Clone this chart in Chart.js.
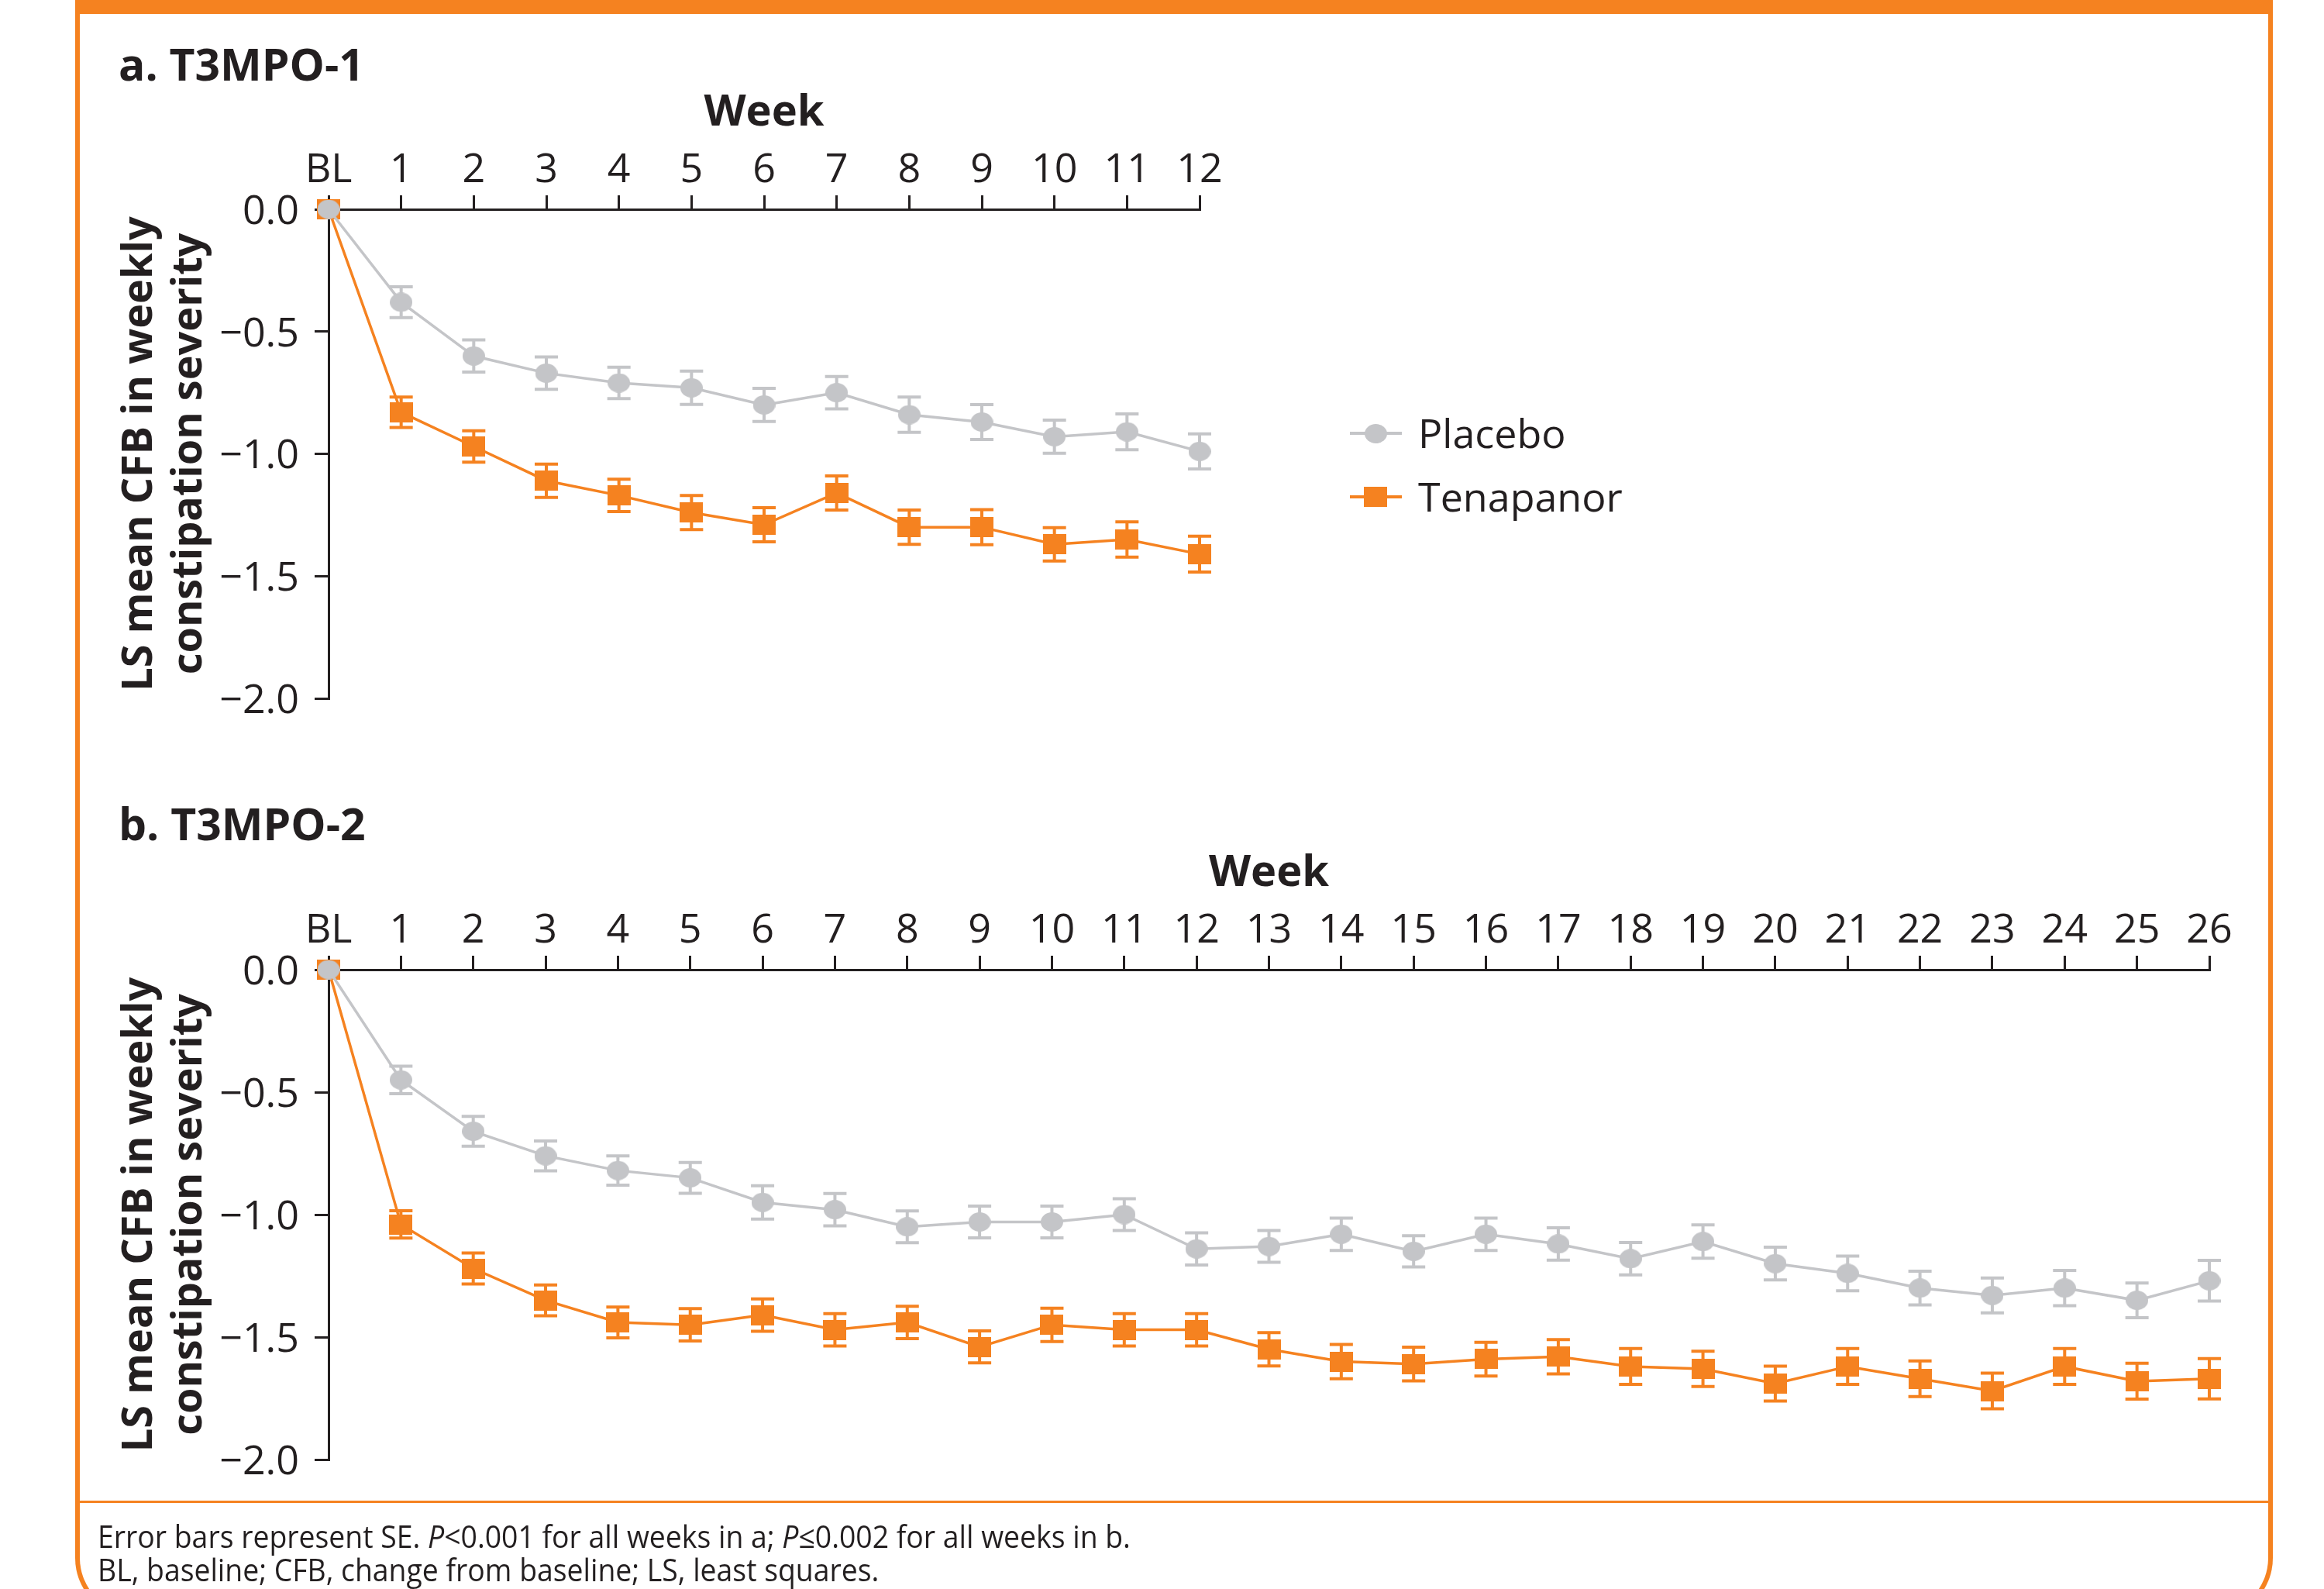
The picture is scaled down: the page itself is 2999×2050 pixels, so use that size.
<!DOCTYPE html>
<html>
<head>
<meta charset="utf-8">
<script src="https://cdn.jsdelivr.net/npm/chart.js@4.4.1/dist/chart.umd.min.js"></script>
<style>
  html, body { margin: 0; padding: 0; background: #fff; }
  body { width: 2999px; height: 2050px; position: relative; overflow: hidden; font-family: 'Open Sans', sans-serif; color: #231f20; }
  #marco { position: absolute; left: 97px; top: 0; width: 2824px; height: 2082px; border: 6px solid #f58220; border-top: none; border-radius: 0 0 78px 78px; }
  #banda { position: absolute; left: 97px; top: 0; width: 2836px; height: 18px; background: #f58220; }
  #linea_pie { position: absolute; left: 103px; top: 1936px; width: 2824px; height: 3px; background: #f58220; }
  .titulo { position: absolute; left: 153px; font-size: 57px; font-weight: bold; line-height: 1; white-space: nowrap; }
  canvas { position: absolute; left: 0; }
  .leyenda { position: absolute; left: 1742px; font-size: 52px; line-height: 1; white-space: nowrap; }
  .leyenda .raya { position: absolute; left: 0; top: 25px; width: 67px; height: 4px; }
  .leyenda .marca { position: absolute; }
  .leyenda span { position: absolute; left: 88px; top: 0; }
  #pie { position: absolute; left: 126px; top: 1960px; font-size: 40px; line-height: 43px; white-space: nowrap; transform-origin: 0 0; }
  #pie div { display: inline-block; }
</style>
</head>
<body>
<div id="banda"></div>
<div id="marco"></div>
<div id="linea_pie"></div>

<div class="titulo" style="top:54px">a. T3MPO-1</div>
<div class="titulo" style="top:1034px">b. T3MPO-2</div>

<canvas id="grafico_a" width="1700" height="1000" style="top:0"></canvas>
<canvas id="grafico_b" width="2999" height="1000" style="top:981px"></canvas>

<div class="leyenda" style="top:532px; width:400px; height:60px">
  <div class="raya" style="background:#c4c5c8"></div>
  <div class="marca" style="left:19px; top:15px; width:29px; height:25px; border-radius:50%; background:#c4c5c8"></div>
  <span>Placebo</span>
</div>
<div class="leyenda" style="top:614px; width:400px; height:60px">
  <div class="raya" style="background:#f58220"></div>
  <div class="marca" style="left:18px; top:14px; width:30px; height:26px; background:#f58220"></div>
  <span>Tenapanor</span>
</div>

<div id="pie">
  <div id="pie_l1">Error bars represent SE. <i>P</i>&lt;0.001 for all weeks in a; <i>P</i>≤0.002 for all weeks in b.</div><br>
  <div>BL, baseline; CFB, change from baseline; LS, least squares.</div>
</div>

<script>
/*********-datos-*********/
const SEMANAS_A = ["BL", "1", "2", "3", "4", "5", "6", "7", "8", "9", "10", "11", "12"];
const SEMANAS_B = ["BL", "1", "2", "3", "4", "5", "6", "7", "8", "9", "10", "11", "12", "13",
  "14", "15", "16", "17", "18", "19", "20", "21", "22", "23", "24", "25", "26"];

// a. T3MPO-1
const PLACEBO_A = [0, -0.38, -0.60, -0.67, -0.71, -0.73, -0.80, -0.75, -0.84, -0.87, -0.93, -0.91, -0.99];
const PLACEBO_A_SE = [0, 0.063, 0.066, 0.066, 0.064, 0.068, 0.068, 0.066, 0.072, 0.071, 0.068, 0.073, 0.072];
const TENAPANOR_A = [0, -0.83, -0.97, -1.11, -1.17, -1.24, -1.29, -1.16, -1.30, -1.30, -1.37, -1.35, -1.41];
const TENAPANOR_A_SE = [0, 0.062, 0.064, 0.068, 0.066, 0.070, 0.070, 0.070, 0.070, 0.072, 0.068, 0.072, 0.073];

// b. T3MPO-2
const PLACEBO_B = [0, -0.45, -0.66, -0.76, -0.82, -0.85, -0.95, -0.98, -1.05, -1.03, -1.03, -1.00, -1.14,
  -1.13, -1.08, -1.15, -1.08, -1.12, -1.18, -1.11, -1.20, -1.24, -1.30, -1.33, -1.30, -1.35, -1.27];
const PLACEBO_B_SE = [0, 0.056, 0.061, 0.061, 0.060, 0.063, 0.068, 0.066, 0.065, 0.065, 0.065, 0.065, 0.066,
  0.065, 0.066, 0.064, 0.066, 0.066, 0.066, 0.068, 0.067, 0.071, 0.069, 0.071, 0.072, 0.071, 0.083];
const TENAPANOR_B = [0, -1.04, -1.22, -1.35, -1.44, -1.45, -1.41, -1.47, -1.44, -1.54, -1.45, -1.47, -1.47,
  -1.55, -1.60, -1.61, -1.59, -1.58, -1.62, -1.63, -1.69, -1.62, -1.67, -1.72, -1.62, -1.68, -1.67];
const TENAPANOR_B_SE = [0, 0.056, 0.063, 0.063, 0.063, 0.066, 0.066, 0.066, 0.066, 0.065, 0.068, 0.066, 0.066,
  0.068, 0.070, 0.069, 0.069, 0.070, 0.073, 0.072, 0.071, 0.073, 0.073, 0.073, 0.073, 0.073, 0.082];

const TITULO_Y = ["LS mean CFB in weekly", "constipation severity"];
//------------------------------------//

const NEGRO = "#231f20";
const GRIS = "#c4c5c8";
const NARANJA = "#f58220";
const FUENTE = "'Open Sans', sans-serif";

/*********-marcadores (el original esta un poco estirado en horizontal)-*********/
function hacerMarcador(tipo, ancho, alto, color) {
  const c = document.createElement("canvas");
  c.width = ancho;
  c.height = alto;
  const g = c.getContext("2d");
  g.fillStyle = color;
  if (tipo === "elipse") {
    g.beginPath();
    g.ellipse(ancho / 2, alto / 2, ancho / 2, alto / 2, 0, 0, 2 * Math.PI);
    g.fill();
  } else {
    g.fillRect(0, 0, ancho, alto);
  }
  return c;
}
const CIRCULO = hacerMarcador("elipse", 29, 25, GRIS);
const CUADRADO = hacerMarcador("rect", 30, 26, NARANJA);
//------------------------------------//

/*********-plugin barras de error-*********/
const barrasError = {
  id: "barrasError",
  beforeDatasetsDraw(chart) {
    const ctx = chart.ctx;
    const escalaY = chart.scales.y;
    for (let d = chart.data.datasets.length - 1; d >= 0; d--) {
      const ds = chart.data.datasets[d];
      const meta = chart.getDatasetMeta(d);
      ctx.save();
      ctx.strokeStyle = ds.borderColor;
      ctx.lineWidth = 4;
      meta.data.forEach((p, i) => {
        const se = ds.errores[i];
        if (!se) return;
        const arriba = escalaY.getPixelForValue(ds.data[i] + se);
        const abajo = escalaY.getPixelForValue(ds.data[i] - se);
        ctx.beginPath();
        ctx.moveTo(p.x, arriba);
        ctx.lineTo(p.x, abajo);
        ctx.moveTo(p.x - 15, arriba);
        ctx.lineTo(p.x + 15, arriba);
        ctx.moveTo(p.x - 15, abajo);
        ctx.lineTo(p.x + 15, abajo);
        ctx.stroke();
      });
      ctx.restore();
    }
  }
};
//------------------------------------//

/*********-configuracion comun de los dos graficos-*********/
function hacerConfig(semanas, placebo, placeboSE, tenapanor, tenapanorSE, derecha, abajo) {
  return {
    type: "line",
    data: {
      labels: semanas,
      datasets: [
        {
          label: "Placebo",
          data: placebo,
          errores: placeboSE,
          borderColor: GRIS,
          backgroundColor: GRIS,
          borderWidth: 3.5,
          pointStyle: CIRCULO,
          pointRadius: 13,
          clip: false
        },
        {
          label: "Tenapanor",
          data: tenapanor,
          errores: tenapanorSE,
          borderColor: NARANJA,
          backgroundColor: NARANJA,
          borderWidth: 3.5,
          pointStyle: CUADRADO,
          pointRadius: 13,
          clip: false
        }
      ]
    },
    options: {
      responsive: false,
      animation: false,
      layout: { padding: { left: 0, top: 0, right: derecha, bottom: abajo } },
      plugins: { legend: { display: false }, tooltip: { enabled: false } },
      scales: {
        x: {
          position: "top",
          offset: false,
          grid: { drawOnChartArea: false, tickLength: 18, color: NEGRO, lineWidth: 3 },
          border: { color: NEGRO, width: 3 },
          ticks: { color: NEGRO, font: { family: FUENTE, size: 52 }, padding: 1, autoSkip: false, maxRotation: 0 },
          title: {
            display: true, text: "Week", color: NEGRO,
            font: { family: FUENTE, size: 56, weight: "bold", lineHeight: 1.2 },
            padding: { top: 112, bottom: 0 }
          },
          afterFit(escala) { escala.height = 270; }
        },
        y: {
          min: -2,
          max: 0,
          grid: { drawOnChartArea: false, tickLength: 18, color: NEGRO, lineWidth: 3 },
          border: { color: NEGRO, width: 3 },
          ticks: {
            stepSize: 0.5, color: NEGRO, padding: 20, labelOffset: 4,
            font: { family: FUENTE, size: 52 },
            callback: v => v === 0 ? "0.0" : "\u2212" + Math.abs(v).toFixed(1)
          },
          title: {
            display: true, text: TITULO_Y, color: NEGRO,
            font: { family: FUENTE, size: 54, weight: "bold", lineHeight: 1.185 },
            padding: { top: 149, bottom: 0 }
          },
          afterFit(escala) { escala.width = 424; }
        }
      }
    },
    plugins: [barrasError]
  };
}
//------------------------------------//

// CREAR los graficos //
new Chart(document.getElementById("grafico_a").getContext("2d"),
  hacerConfig(SEMANAS_A, PLACEBO_A, PLACEBO_A_SE, TENAPANOR_A, TENAPANOR_A_SE, 152, 99));
new Chart(document.getElementById("grafico_b").getContext("2d"),
  hacerConfig(SEMANAS_B, PLACEBO_B, PLACEBO_B_SE, TENAPANOR_B, TENAPANOR_B_SE, 148, 98));

/*********-el pie usa una letra estrecha: se ajusta al ancho del original-*********/
const PIE = document.getElementById("pie");
const PIE_L1 = document.getElementById("pie_l1");
PIE.style.transform = "scaleX(" + (1333 / PIE_L1.offsetWidth) + ")";
//------------------------------------//
</script>
</body>
</html>
